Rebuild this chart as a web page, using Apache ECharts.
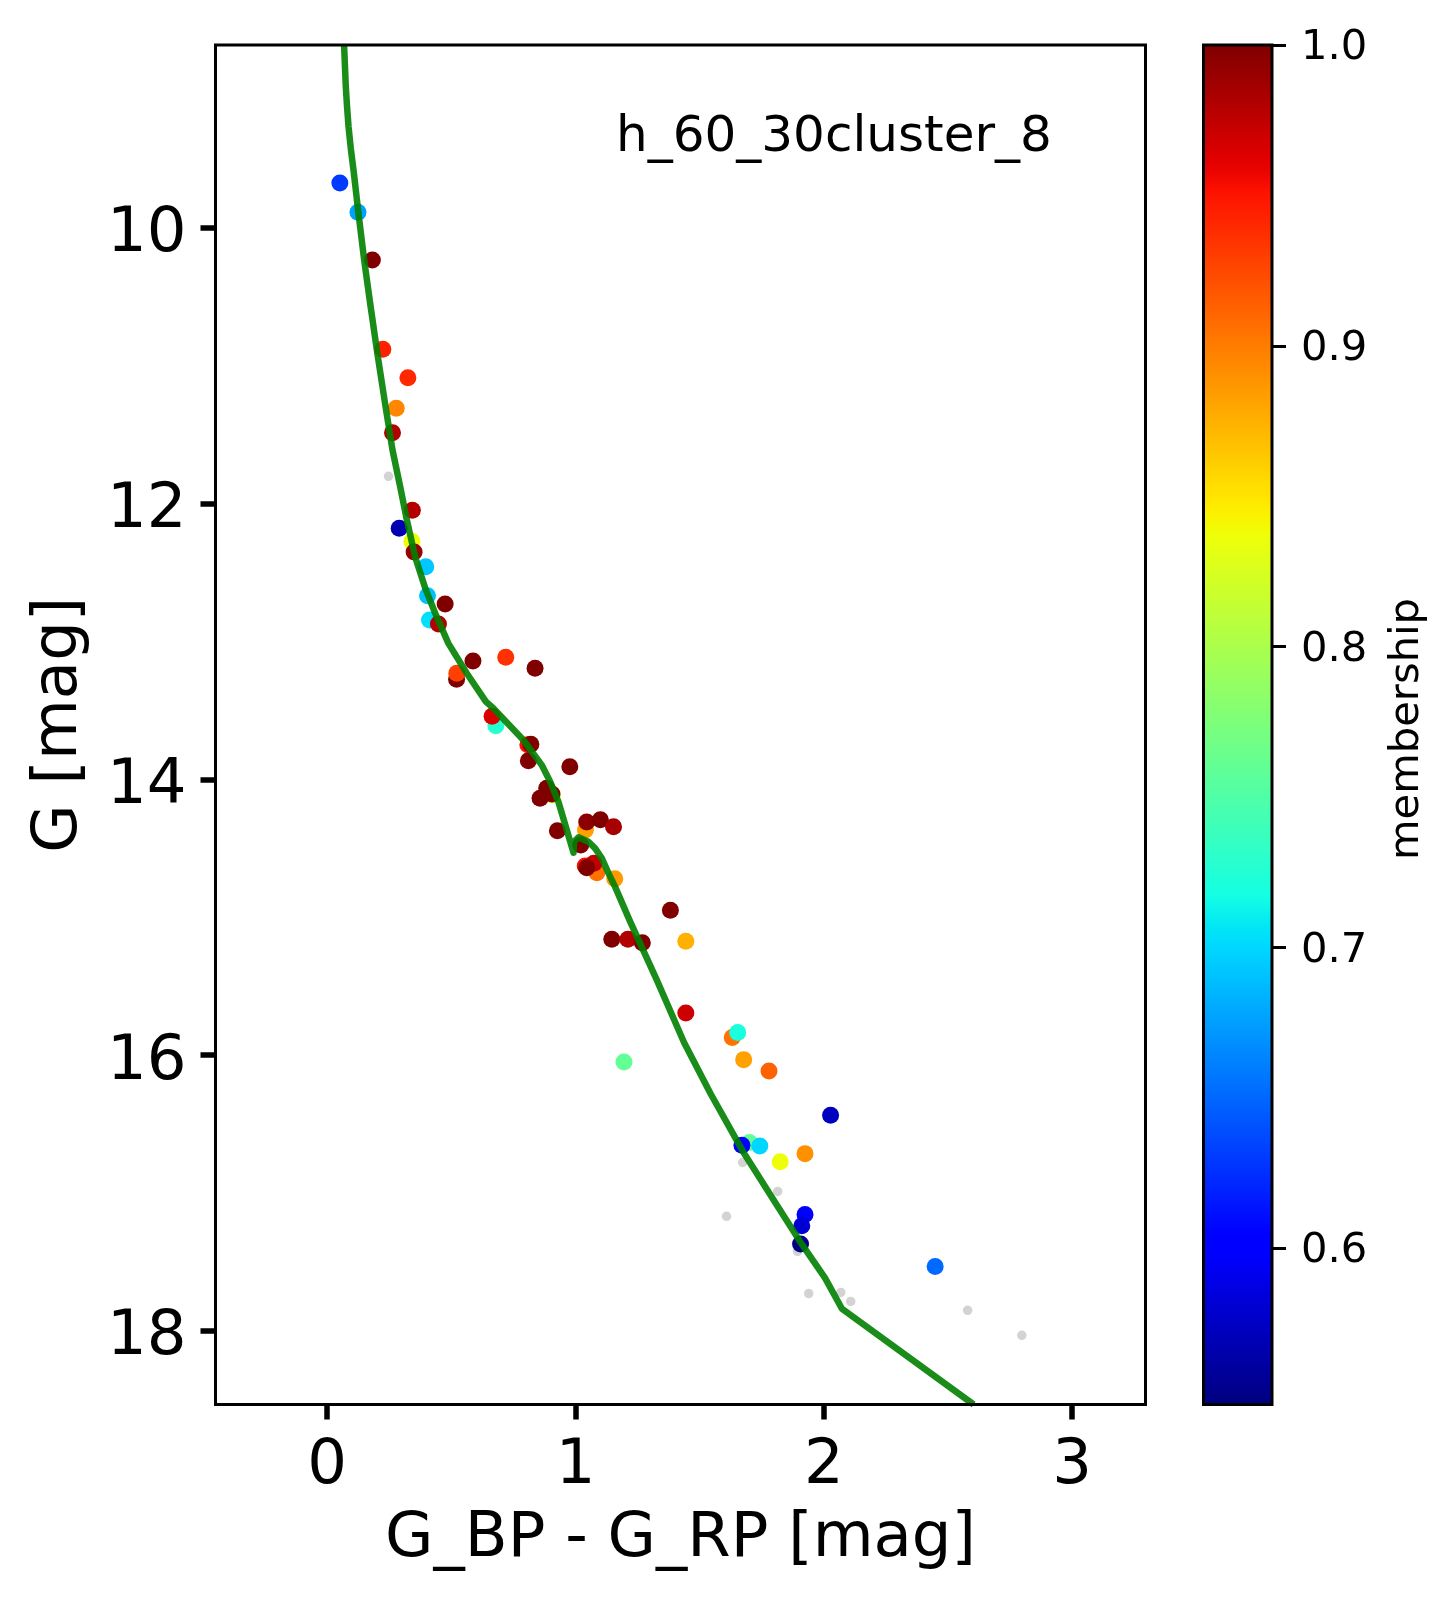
<!DOCTYPE html>
<html>
<head>
<meta charset="utf-8">
<style>html,body{margin:0;padding:0;background:#fff}#chart{width:1453px;height:1602px}</style>
<script src="https://cdn.jsdelivr.net/npm/echarts@6/dist/echarts.min.js"></script>
</head>
<body>
<div id="chart"></div>
<script>
var annotation = 'h_60_30cluster_8';
var colorbarLabel = 'membership';
var xTicks = [0, 1, 2, 3];
var yTicks = [10, 12, 14, 16, 18];
var cbTicks = [0.6, 0.7, 0.8, 0.9, 1.0];

var bpRp = [0.051,0.124,0.182,0.224,0.325,0.278,0.263,0.343,0.290,0.341,0.350,0.397,0.404,0.475,0.412,0.448,0.587,0.719,0.837,0.521,0.522,0.679,0.664,0.808,0.820,0.810,0.977,0.884,0.907,0.905,0.857,0.927,1.040,1.045,1.100,1.153,1.021,1.086,1.039,1.074,1.045,1.158,1.382,1.146,1.211,1.269,1.444,1.444,1.631,1.653,1.677,1.779,1.195,2.027,1.700,1.670,1.742,1.924,1.824,1.924,1.911,1.906,2.448];
var gMag = [9.674,9.886,10.232,10.880,11.086,11.308,11.485,12.048,12.178,12.273,12.350,12.457,12.667,12.728,12.844,12.873,13.141,13.114,13.194,13.274,13.230,13.610,13.542,13.748,13.745,13.864,13.908,14.065,14.113,14.106,14.137,14.372,14.367,14.309,14.292,14.343,14.476,14.677,14.628,14.609,14.641,14.720,14.950,15.160,15.160,15.185,15.175,15.694,15.872,15.836,16.033,16.116,16.051,16.437,16.634,16.655,16.660,16.715,16.774,17.157,17.238,17.370,17.533];
var membership = [0.63,0.676,1.0,0.944,0.94,0.895,0.98,0.98,0.567,0.837,0.99,0.693,0.69,1.0,0.704,0.98,1.0,0.936,1.0,1.0,0.929,0.727,0.965,0.952,1.0,1.0,1.0,1.0,0.82,1.0,1.0,1.0,0.882,0.995,1.0,0.985,1.0,0.905,0.952,0.975,1.0,0.885,1.0,1.0,0.98,1.0,0.875,0.97,0.905,0.72,0.882,0.912,0.76,0.573,0.76,0.60,0.70,0.89,0.837,0.60,0.58,0.55,0.651];

var lowBpRp = [0.247,1.673,1.814,1.608,1.894,1.939,2.068,2.108,2.579,2.797];
var lowG = [11.801,16.779,16.989,17.170,17.424,17.730,17.722,17.787,17.852,18.033];

var isoBpRp = [0.068,0.075,0.080,0.086,0.095,0.106,0.126,0.149,0.173,0.202,0.233,0.263,0.294,0.318,0.354,0.395,0.435,0.488,0.562,0.639,0.669,0.790,0.864,0.898,0.931,0.992,0.994,1.012,1.052,1.079,1.106,1.132,1.159,1.220,1.327,1.437,1.545,1.674,1.804,1.911,2.005,2.072,2.603];
var isoG = [8.672,8.975,9.120,9.265,9.422,9.579,9.893,10.232,10.546,10.909,11.272,11.610,11.877,12.094,12.384,12.614,12.795,13.013,13.230,13.436,13.484,13.714,13.896,14.017,14.162,14.532,14.452,14.420,14.452,14.500,14.572,14.678,14.778,15.032,15.455,15.909,16.284,16.699,17.070,17.372,17.618,17.839,18.535];

var memberMin = 0.548, memberMax = 1.0;

// matplotlib "jet" segment definition
var jetR = [[0,0],[0.35,0],[0.66,1],[0.89,1],[1,0.5]];
var jetG = [[0,0],[0.125,0],[0.375,1],[0.64,1],[0.91,0],[1,0]];
var jetB = [[0,0.5],[0.11,1],[0.34,1],[0.65,0],[1,0]];
function seg(s, t) {
  for (var i = 1; i < s.length; i++) {
    if (t <= s[i][0]) {
      var f = (t - s[i-1][0]) / (s[i][0] - s[i-1][0]);
      return s[i-1][1] + f * (s[i][1] - s[i-1][1]);
    }
  }
  return s[s.length-1][1];
}
var jet = [];
for (var k = 0; k <= 128; k++) {
  var t = k / 128;
  jet.push('rgb(' + Math.round(255*seg(jetR,t)) + ',' + Math.round(255*seg(jetG,t)) + ',' + Math.round(255*seg(jetB,t)) + ')');
}
var jetStops = jet.map(function (c, i) { return { offset: i / 128, color: c }; });

var FONT = 'DejaVu Sans';
var W = 1453, H = 1602;
var chart = echarts.init(document.getElementById('chart'), null, { renderer: 'canvas', width: W, height: H });

chart.setOption({
  animation: false,
  backgroundColor: '#fff',
  title: {
    text: annotation, left: 611, top: 108.5, z: 5,
    textStyle: { fontFamily: FONT, fontSize: 50, fontWeight: 'normal', color: '#000' }
  },
  graphic: [{
    type: 'text', x: 1407, y: 729, rotation: Math.PI / 2, z: 5,
    style: { text: colorbarLabel, fontFamily: FONT, fontSize: 41.67, fill: '#000', align: 'center', verticalAlign: 'middle' }
  }],
  grid: [
    { show: true, z: 3, outerBoundsMode: 'none', left: 215.5, top: 45, width: 930, height: 1359.5, borderColor: '#000', borderWidth: 3, backgroundColor: 'transparent' },
    { show: true, z: 3, outerBoundsMode: 'none', left: 1203.5, top: 45, width: 68.5, height: 1359.5, borderColor: '#000', borderWidth: 3, backgroundColor: 'transparent' }
  ],
  xAxis: [
    {
      gridIndex: 0, type: 'value', min: -0.4497, max: 3.295,
      name: 'G_BP - G_RP [mag]', nameLocation: 'middle', nameGap: 104,
      nameTextStyle: { fontFamily: FONT, fontSize: 62.5, color: '#000' },
      splitLine: { show: false }, axisLine: { show: false, onZero: false },
      axisTick: { show: true, length: 15, lineStyle: { color: '#000', width: 5.5 }, customValues: xTicks },
      axisLabel: { show: true, margin: 31, fontFamily: FONT, fontSize: 62.5, color: '#000', customValues: xTicks, formatter: function (v) { return String(v); } }
    },
    {
      gridIndex: 1, type: 'category', data: ['c'], show: false,
      boundaryGap: true
    }
  ],
  yAxis: [
    {
      gridIndex: 0, type: 'value', inverse: true, min: 8.672, max: 18.535,
      name: 'G [mag]', nameLocation: 'middle', nameGap: 124, nameRotate: 90,
      nameTextStyle: { fontFamily: FONT, fontSize: 62.5, color: '#000' },
      splitLine: { show: false }, axisLine: { show: false, onZero: false },
      axisTick: { show: true, length: 15, lineStyle: { color: '#000', width: 5.5 }, customValues: yTicks },
      axisLabel: { show: true, margin: 29, verticalAlign: 'top', lineHeight: 14.4, fontFamily: FONT, fontSize: 62.5, color: '#000', customValues: yTicks, formatter: function (v) { return String(v); } }
    },
    {
      gridIndex: 1, type: 'value', position: 'right', min: memberMin, max: memberMax,
      splitLine: { show: false }, axisLine: { show: false, onZero: false },
      axisTick: { show: true, length: 14, lineStyle: { color: '#000', width: 3 }, customValues: cbTicks },
      axisLabel: { show: true, margin: 29, verticalAlign: 'top', lineHeight: 7, fontFamily: FONT, fontSize: 41.67, color: '#000', customValues: cbTicks, formatter: function (v) { return v.toFixed(1); } }
    }
  ],
  visualMap: {
    type: 'continuous', show: false, seriesIndex: 1, dimension: 2,
    min: memberMin, max: memberMax, inRange: { color: jet }
  },
  series: [
    {
      type: 'scatter', xAxisIndex: 0, yAxisIndex: 0, symbolSize: 9.5, z: 2,
      itemStyle: { color: 'lightgray', opacity: 1 },
      data: lowBpRp.map(function (x, i) { return [x, lowG[i]]; })
    },
    {
      type: 'scatter', xAxisIndex: 0, yAxisIndex: 0, symbolSize: 17, z: 2,
      itemStyle: { opacity: 1 },
      data: bpRp.map(function (x, i) { return [x, gMag[i], membership[i]]; })
    },
    {
      type: 'line', xAxisIndex: 0, yAxisIndex: 0, showSymbol: false, smooth: false, clip: true, z: 2.5,
      lineStyle: { color: 'green', width: 6.5, opacity: 0.9, join: 'round' },
      data: isoBpRp.map(function (x, i) { return [x, isoG[i]]; })
    },
    {
      type: 'bar', xAxisIndex: 1, yAxisIndex: 1, barWidth: '100%', z: 1,
      itemStyle: { color: { type: 'linear', x: 0, y: 1, x2: 0, y2: 0, colorStops: jetStops } },
      data: [memberMax]
    }
  ]
});
</script>
</body>
</html>
